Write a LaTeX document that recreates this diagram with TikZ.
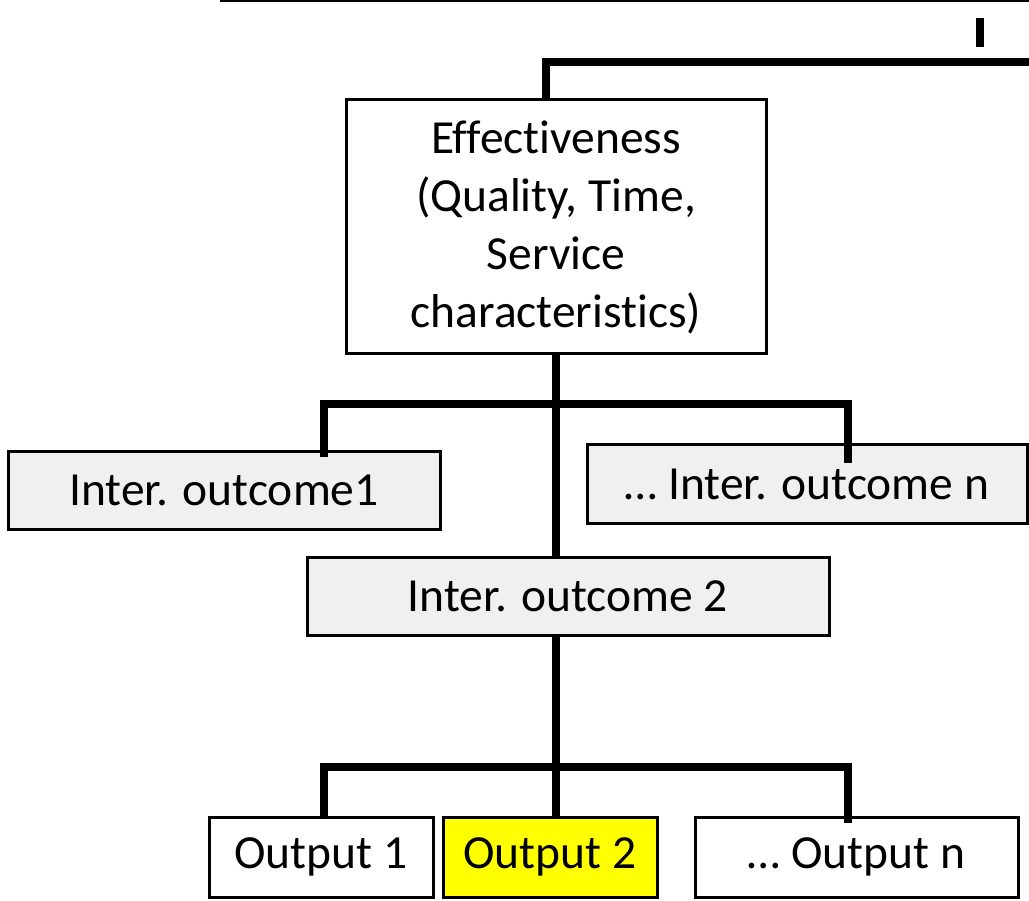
\documentclass[tikz,border=0pt]{standalone}
\usepackage{fontspec}
\setmainfont{Carlito}[Ligatures=NoCommon]
\begin{document}
\begin{tikzpicture}[x=1pt,y=-1pt,
  box/.style={draw=black,line width=3pt,inner sep=0pt,align=center,
    font=\fontsize{47.5}{58}\selectfont},
  graybox/.style={box,fill=boxgray},
  conn/.style={line width=8pt,line cap=butt},
  thin/.style={line width=3pt}]
\definecolor{boxgray}{HTML}{F0F0F0}
\definecolor{hiyellow}{HTML}{FFFF00}
\useasboundingbox (0,0) rectangle (1029,901);

% boxes
\node[box,minimum width=420pt,minimum height=254pt] (eff) at (556,227)
  {Effectiveness\\(Quality, Time,\\Service\\characteristics)};
\node[graybox,minimum width=432pt,minimum height=77pt] (io1) at (224,490.5) {Inter. outcome1};
\node[graybox,minimum width=440pt,minimum height=78pt] (ion) at (807,484) {\dots{} Inter. outcome n};
\node[graybox,minimum width=522pt,minimum height=78pt] (io2) at (568,596) {Inter. outcome 2};
\node[box,fill=white,minimum width=224pt,minimum height=80pt] (o1) at (321,857) {Output 1};
\node[box,fill=hiyellow,minimum width=214pt,minimum height=80pt] (o2) at (550,857) {Output 2};
\node[box,fill=white,minimum width=323pt,minimum height=80pt] (on) at (856.5,857) {\dots{} Output n};

% upper tree
\coordinate (topL) at (220,1);
\coordinate (topR) at (1029,1);
\draw[thin] (topL) -- (topR);
\coordinate (tickT) at (980,18);
\coordinate (tickB) at (980,47);
\draw[conn] (tickT) -- (tickB);
\coordinate (barR) at (1029,62);
\coordinate (barL) at (542,62);
\draw[conn] (barR) -- (barL);
\draw[conn] (546,58) -- (eff.north -| 546,0);

% trunk to intermediate outcomes
\coordinate (midL) at (320,404);
\coordinate (midR) at (852,404);
\draw[conn] (556,352) -- (556,557);
\draw[conn] (midL) -- (midR);
\draw[conn] (324,400) -- (324,457);
\draw[conn] (848,400) -- (848,463);

% trunk to outputs
\coordinate (lowL) at (320,767);
\coordinate (lowR) at (852,767);
\draw[conn] (io2.south -| 556,0) -- (o2.north -| 556,0);
\draw[conn] (lowL) -- (lowR);
\draw[conn] (324,763) -- (324,818);
\draw[conn] (848,763) -- (848,823);
\end{tikzpicture}
\end{document}
